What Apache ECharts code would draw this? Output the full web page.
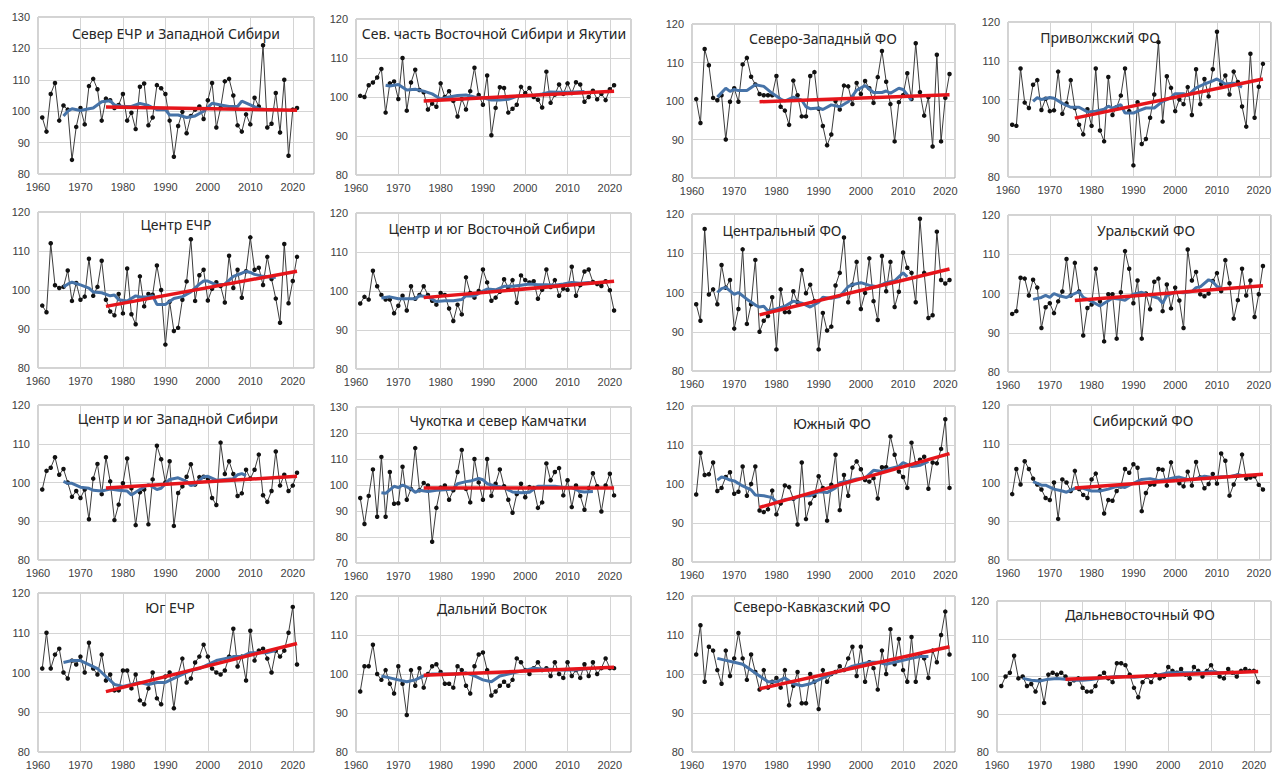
<!DOCTYPE html>
<html><head><meta charset="utf-8">
<script src="https://cdn.jsdelivr.net/npm/echarts@6/dist/echarts.min.js"></script>
<style>html,body{margin:0;padding:0;background:#fff}#c{width:1274px;height:776px}</style>
</head><body><div id="c"></div>
<script>
const YEARS = [1961,1962,1963,1964,1965,1966,1967,1968,1969,1970,
1971,1972,1973,1974,1975,1976,1977,1978,1979,1980,
1981,1982,1983,1984,1985,1986,1987,1988,1989,1990,
1991,1992,1993,1994,1995,1996,1997,1998,1999,2000,
2001,2002,2003,2004,2005,2006,2007,2008,2009,2010,
2011,2012,2013,2014,2015,2016,2017,2018,2019,2020,2021];
const X_TICKS = [1960,1970,1980,1990,2000,2010,2020];

const TITLES = ['Север ЕЧР и Западной Сибири','Сев. часть Восточной Сибири и Якутии','Северо-Западный ФО','Приволжский ФО',
'Центр ЕЧР','Центр и юг Восточной Сибири','Центральный ФО','Уральский ФО',
'Центр и юг Западной Сибири','Чукотка и север Камчатки','Южный ФО','Сибирский ФО',
'Юг ЕЧР','Дальний Восток','Северо-Кавказский ФО','Дальневосточный ФО'];

const Y_RANGES = [[80,130],[80,120],[80,120],[80,120],[80,120],[80,120],[80,120],[80,120],
[80,120],[70,130],[80,120],[80,120],[80,120],[80,120],[80,120],[80,120]];

const P1_VALUES = [98,93.5,105.5,109,97,101.8,100.5,84.5,95,101,
95.8,108,110.3,107,97,104,103.5,101,102,105.5,
97,99.5,94.3,107.8,108.8,95.5,98,108.3,107.3,105.5,
97,85.5,95.3,99.8,93,98.5,100.5,101.5,97.5,103.5,
109,94.8,101,109.5,110.3,105,95.5,93.5,99,95.8,
104.3,101.5,121,94.8,96,105.8,93.2,110,85.8,100.5,101];
const P1_SMOOTH = [[1966,98.5],[1967,100],[1968,100.8],[1970,100.2],[1972,100.8],[1973,101],[1975,103],[1977,103.3],[1978,102],[1980,101.5],[1982,101.5],[1984,102.5],[1986,101.8],[1988,100.5],[1990,100.5],[1991,98.8],[1993,98.8],[1995,98],[1997,98.5],[1999,100],[2001,102.5],[2003,102],[2005,101.5],[2007,101.5],[2008,103.2],[2010,102],[2012,100.8],[2014,100.5],[2016,100.6]];
const P1_TREND = [[1976,101.3],[2021,100.3]];

const P2_VALUES = [100.3,100,103,103.7,105,107.2,96,103.5,104,99.5,
110,96.5,103.7,107,101.8,101.2,96.8,98.3,97.5,103.5,
100,101.5,99,95,99.5,96.8,101.5,107.5,100.5,98,
105.5,90.2,97.2,102.5,102.3,96,97,98,102.6,101,
102.3,100,99.3,97.3,106.5,98.5,100.6,103.2,100.8,103.5,
101,103.8,103.2,98.8,100,101.6,99.4,100.8,99.2,102,103];
const P2_SMOOTH = [[1967,103],[1968,102.8],[1970,103.2],[1972,101.8],[1974,102],[1976,101.5],[1978,100.8],[1980,99.5],[1982,100],[1984,100.4],[1986,100.5],[1988,100],[1990,99.8],[1992,99.2],[1994,99.2],[1996,99.4],[1998,100.2],[2000,100.3],[2002,100.4],[2004,100.8],[2006,101.3],[2008,101.2],[2010,101.2],[2012,101.3],[2014,101.4]];
const P2_TREND = [[1976,99],[2021,101.5]];

const P3_VALUES = [100.5,94.3,113.5,109.3,100.8,100.2,101.5,90,99.8,103.3,
99.8,109.5,111.2,106.3,104.3,101.8,101.5,101.5,101.5,106.5,
98.5,97.5,93.8,105.3,101.5,96,96,106.5,107.5,98,
93.5,88.5,91.3,100,97.8,104,103.8,99.2,104.7,101.8,
105.2,103.3,99.5,106.2,113,105,99.2,89.5,99.7,101.5,
107.2,100.5,115,102.3,96.2,101,88.2,112,89.5,100.8,107];
const P3_SMOOTH = [[1966,101],[1968,103.3],[1969,102.5],[1970,103],[1971,102.7],[1973,102.7],[1975,104.2],[1977,103.8],[1979,102],[1981,100.5],[1982,100],[1984,101],[1986,100.2],[1987,98.5],[1988,98],[1990,98.2],[1991,97.8],[1993,99],[1995,98.5],[1997,99.8],[1999,102.8],[2001,104],[2003,102.2],[2005,102.2],[2006,102.6],[2007,102],[2009,103.3],[2010,103],[2012,100.2]];
const P3_TREND = [[1976,99.8],[2021,101.6]];

const P4_VALUES = [93.5,93.2,108,99.2,97.8,103.8,105,97.3,100.2,97,
97.2,107.2,96.3,99,105,97.8,93.5,91,97.5,93.2,
108,92,89.2,105.8,96,98,101,108,97,83,
99.3,88.5,89.8,95.3,101.3,114.8,94.3,106,103,97,
100,98.8,103.2,96,107.8,98.8,105.3,100.8,107.8,117.5,
104,106.2,101.3,107.2,104.5,98.2,93,111.8,95.3,103.3,109.2];
const P4_SMOOTH = [[1966,99.5],[1967,100.5],[1968,100],[1970,100.5],[1971,100.3],[1973,99],[1975,98],[1977,98],[1979,96.8],[1981,97],[1983,97.5],[1984,98.3],[1985,97.8],[1987,98.7],[1988,96.5],[1990,96.5],[1991,97],[1993,97.8],[1995,97.8],[1997,99.5],[1999,100.5],[2000,101.5],[2002,101.5],[2003,101],[2005,103],[2007,104],[2009,104.8],[2010,105.3],[2012,104],[2014,104.2],[2016,103.2]];
const P4_TREND = [[1976,95.2],[2021,105.3]];

const P5_VALUES = [96,94.3,112,101.2,100.5,100.8,105,97.2,101.8,97.5,
98.3,108,98.5,100.8,107.5,97.5,94.5,93.5,99,94,
105.5,93.8,91.2,103.5,95.8,99,98.8,106.3,100,86,
97,89.5,90.3,97.5,102.2,113,97.2,103.8,105.2,97.3,
100.3,102,101,96.8,108.8,100.5,105.2,98,104.8,113.5,
105.2,105.7,101.3,108.5,102.8,97.8,91.6,111.8,96.6,102.3,108.5];
const P5_SMOOTH = [[1966,100.8],[1967,101.5],[1968,102],[1970,101.3],[1972,100.5],[1973,99.5],[1975,99.3],[1977,98.5],[1978,98.7],[1979,97.5],[1981,97.2],[1983,98.5],[1984,98.2],[1986,98.3],[1987,98.5],[1988,96.3],[1990,96.3],[1992,97.8],[1994,98.3],[1996,99.5],[1998,101.5],[1999,102.3],[2000,102.3],[2002,101.3],[2004,101.5],[2006,103.5],[2008,104.3],[2009,104.8],[2010,104.5],[2011,104],[2013,103.5],[2016,103.2]];
const P5_TREND = [[1976,95.8],[2021,104.8]];

const P6_VALUES = [96.8,98.5,97.8,105.2,101.2,99,97.8,97.8,94.3,96.2,
98.8,95,101.2,98,99,101.2,99,97.5,96.5,99.5,
99,95.5,92.3,96.5,94,103.5,99.5,98.3,100,105.5,
102.2,97.5,98.3,99.8,103,100.8,102.8,97,104,102.8,
102.2,102.5,98,100.3,105.5,101,102.8,98.8,100.6,100.3,
106.2,98.8,101.5,105,105.5,102.3,101.8,101.3,102.5,100.2,95];
const P6_SMOOTH = [[1966,98.2],[1968,98.5],[1970,98],[1972,98],[1974,98],[1975,98.8],[1977,98.5],[1979,97.3],[1981,97.5],[1983,97.5],[1985,97.8],[1986,98.8],[1988,98.7],[1990,100],[1991,100.5],[1993,100.3],[1995,101.2],[1997,101.2],[1999,101.5],[2001,101.8],[2003,101.6],[2005,101.6],[2007,101.5],[2009,101.8],[2011,102.2],[2013,102],[2015,102.2],[2016,102]];
const P6_TREND = [[1976,98.3],[2021,102.5]];

const P7_VALUES = [97,92.8,116.2,99.5,100.8,97,107,101.2,103.2,90.8,
95.8,111,92,97,108.3,90,92.8,94,98.8,85.5,
100.8,95,95,100.3,97.5,105.7,99.8,102,97.8,85.5,
94.8,90.3,91.3,101.8,105,114,97.5,102,107.8,95.8,
99.9,108.7,97.8,93,109.3,100.3,107.8,96.3,100.2,110.2,
106.3,105,97.5,118.8,105,93.5,94.2,115.5,103.2,102.3,103.2];
const P7_SMOOTH = [[1966,100],[1967,101],[1968,101.3],[1970,99.5],[1971,100],[1973,98.3],[1975,96.8],[1976,96.3],[1977,96.5],[1978,95.3],[1980,95.8],[1982,96.5],[1984,97.8],[1986,97.3],[1988,96.3],[1990,97.5],[1991,98.8],[1993,98.5],[1995,99],[1997,101.5],[1998,102],[2000,102.5],[2002,101.8],[2004,101.5],[2006,102.5],[2008,103],[2010,105],[2011,104]];
const P7_TREND = [[1976,94.3],[2021,106]];

const P8_VALUES = [94.8,95.5,104,103.8,99.5,103.5,101.5,91.2,96.5,97.5,
95,98,100.5,108.8,99.5,107.8,100.5,89.3,96.3,97.2,
106.3,98,87.8,99.8,99.8,88.5,100.3,110.8,106.3,97.5,
103.3,88.5,100,96,103,103.8,95.5,102.3,96.2,101.5,
98.2,91.2,111.2,103.3,105.5,99.8,99.3,100,103.2,105.2,
100.6,108.5,102.6,93.6,98.3,106.3,99.5,103.3,94,99.8,107];
const P8_SMOOTH = [[1966,98.5],[1968,99],[1969,99.5],[1970,99],[1971,100],[1972,99.5],[1974,99],[1976,100],[1977,100.5],[1978,99],[1980,98],[1982,96.8],[1983,97.5],[1985,98.8],[1987,98.5],[1988,98.3],[1990,99.8],[1992,100.3],[1994,99.5],[1996,98.8],[1997,97.5],[1998,99.5],[2000,100.3],[2002,100.2],[2004,100.5],[2005,101.5],[2006,101.7],[2008,103.5],[2009,103],[2010,101.8],[2011,101.3]];
const P8_TREND = [[1976,98.2],[2021,102]];

const P9_VALUES = [98.2,103,103.8,106.5,102,103.5,100,96.3,97.8,96,
98.2,90.5,101,104.8,97,106.5,100.3,90.3,94.3,99.8,
106.2,98.5,89,97.5,98.2,89.2,100.8,109.5,106,100,
105.5,88.8,97.3,99,101.5,104.7,99.5,101.4,101.5,101,
96,94.2,110.3,102.2,105.5,102.2,96.5,97.2,103.3,101,
103.3,107.2,96.7,95,97.8,108,99.2,102,97.8,99.2,102.5];
const P9_SMOOTH = [[1966,100.3],[1967,99.8],[1968,99.8],[1970,98.8],[1972,98.5],[1973,98],[1975,97.8],[1977,98.3],[1979,98],[1981,97.8],[1982,96.8],[1984,98.2],[1986,99.5],[1988,98.2],[1989,98.5],[1991,100.8],[1993,101.2],[1995,100.3],[1996,99.2],[1997,99.5],[1999,101.5],[2000,101.6],[2002,100.6],[2004,100.8],[2006,101],[2007,102],[2008,102.3],[2009,101.8]];
const P9_TREND = [[1976,98.6],[2021,101.6]];

const P10_VALUES = [95,85,95.8,106,87.8,110.8,87.8,105,92.8,93,
107,94.3,98.5,114.2,98,100.8,99.8,78.2,91.2,99,
99.8,94.3,98,105,113.5,98.5,93.3,110,101,94.3,
110,95.8,100.5,106,99.5,94.3,89.3,96.5,100.5,95.3,
99.2,98.8,91.2,93.3,108.3,101.8,105,106.5,96,101.8,
91.5,99.8,95.8,90.5,98.8,104.5,99.5,89.8,99.8,104.3,96];
const P10_SMOOTH = [[1966,97],[1967,96.8],[1969,99.5],[1970,99],[1971,100],[1973,98.5],[1974,97.2],[1975,98],[1977,97.5],[1979,98],[1981,98.2],[1983,98.5],[1984,100.5],[1986,101.3],[1987,101.5],[1989,102.5],[1990,102],[1991,100.5],[1993,99.5],[1995,99],[1997,97.3],[1999,97],[2001,97.2],[2003,99.5],[2005,99.5],[2007,99.5],[2009,99],[2011,99],[2013,97.5],[2014,97.3],[2016,97.5]];
const P10_TREND = [[1976,98.8],[2021,98.8]];

const P11_VALUES = [97.3,108,102.3,102.5,105.5,98.2,99,101.8,103,97.5,
98,104.5,97,100,104.5,93.2,92.8,93.5,98.3,92.2,
95,99.6,99.2,96.2,89.6,105.5,91,95,97,102,
99,90.6,99.8,107.5,93.3,102.3,97,104.2,105.8,103.8,
101,100.6,101.5,96.3,104.3,104.3,112.2,107.5,103.2,101.8,
99,110.6,105.3,106.2,107,98.8,105.5,105.3,109,116.6,99];
const P11_SMOOTH = [[1966,101],[1967,101.8],[1968,101.5],[1969,101],[1970,100.8],[1972,99.5],[1974,98.5],[1975,97.2],[1977,97],[1979,96.5],[1980,95.3],[1982,96],[1984,96.2],[1986,97],[1988,97],[1990,98],[1992,97.8],[1994,99],[1995,100.3],[1997,100.7],[1999,101.3],[2001,101.5],[2003,103.5],[2005,103.2],[2007,104],[2009,104.5],[2010,105.5],[2012,104.5],[2013,104.6],[2014,104.8],[2016,105.8]];
const P11_TREND = [[1976,94],[2021,107.8]];

const P12_VALUES = [97,103.5,99.5,105.5,103.5,101,99.5,98.2,96,95.5,
100,90.6,100.8,100,97.8,103,98.3,96.8,96,100.8,
102.3,98,92,95.5,95.3,97.8,99,103.5,102.5,104.7,
103.8,92.6,97.3,99.5,99.5,103.5,103.3,99.2,105.2,101,
99.8,99,102.8,99.2,105.3,101.3,98.5,99.6,102.2,99.7,
107.5,105.6,96.6,99.5,101.8,107.2,101,101.3,101.6,99.4,98.2];
const P12_SMOOTH = [[1966,100.2],[1968,99.3],[1969,99.3],[1971,98.3],[1973,97.8],[1974,97.5],[1976,98.5],[1978,98.5],[1980,97.8],[1982,97.8],[1984,98.3],[1986,99],[1988,98.7],[1990,99.8],[1992,100.8],[1994,101],[1996,100.5],[1998,100.8],[2000,101.3],[2001,101.4],[2003,100.8],[2005,101],[2007,101.6],[2009,101.3],[2011,101.5],[2013,101.5],[2015,102],[2016,101.8]];
const P12_TREND = [[1976,98.6],[2021,102.1]];

const P13_VALUES = [101,110,101,104.5,106,100,98.5,103,102,104,
100,107.5,101,99.5,104.5,98,99.5,95.5,95.5,100.5,
100.5,96,99.5,93,92,96,100,93.5,92,99,
100,91,99.5,103.5,97.5,98.5,102.5,104,107,104,
101,100,99.5,100.5,104,111,101.5,104,98,110.5,
103,105.5,106,103.5,100,105.5,104,105.5,110,116.5,102];
const P13_SMOOTH = [[1966,102.5],[1968,103],[1970,103],[1972,102],[1974,101],[1976,99],[1978,97],[1980,96.5],[1982,97],[1984,97.5],[1986,97],[1988,97.5],[1990,97.5],[1992,98.5],[1994,99.5],[1996,100.5],[1998,101],[2000,102],[2002,103],[2004,103.5],[2006,104],[2008,104],[2010,105],[2012,105],[2014,105],[2016,105.5]];
const P13_TREND = [[1976,95.2],[2021,107.3]];

const P14_VALUES = [95.5,102,102,107.5,100,98.5,101,97.5,95,102,
97.5,89.5,101,97,101.5,96.5,100,102,102.5,100.5,
97.5,97.5,96.5,102,101,97,95,102,105,105.5,
101,94.5,95.5,97,98,97,98.5,104,103,101,
100,101.5,103,101,101.5,99.5,103,100,99,103,
99.5,101,99,102.5,99.5,103,100,101.5,104,101.5,101.5];
const P14_SMOOTH = [[1966,99.5],[1968,99],[1970,98.5],[1972,98],[1974,98.5],[1976,99.5],[1978,100],[1980,100],[1982,100],[1984,100],[1986,100.3],[1988,99.5],[1990,98.5],[1992,98],[1994,99.5],[1996,100],[1998,100.5],[2000,101],[2002,101.5],[2004,101.3],[2006,101.2],[2008,101],[2010,101],[2012,101],[2014,101.3],[2016,101.5]];
const P14_TREND = [[1976,99.7],[2021,101.7]];

const P15_VALUES = [105,112.5,98,107,106,101,97.5,106,99.5,104,
110.5,104,98.5,105,100.5,96,101,96.5,98,99,
96.5,101,92,97,100.5,92.5,92.5,100,98,91,
101,98,100,100.5,102,101,104,107,99.5,107,
98,103,101.5,96,106,100,111.5,102.5,109,101,
98,109.5,98,105,104,99,106,103,110,116,105];
const P15_SMOOTH = [[1966,104],[1968,103.5],[1970,103],[1972,102.5],[1974,101],[1976,99.5],[1978,98],[1980,98],[1982,99],[1984,97.5],[1986,97],[1988,97.5],[1990,98.5],[1992,99.5],[1994,100.5],[1996,101],[1998,102],[2000,102.5],[2002,103],[2004,103],[2006,102.5],[2008,103],[2010,103.5],[2012,104],[2014,104.5],[2016,104.5]];
const P15_TREND = [[1976,96.2],[2021,107]];

const P16_VALUES = [97.5,100,101,105.5,99.5,100,97.5,98,96,99,
93,100.5,101,100.5,101,100,98,99,99.5,97,
96,96,97.5,100,101,99.5,98.5,103.5,103.5,103,
100.5,97,94.5,98.5,100,98.5,100.5,99.5,100,102.5,
101.5,101,102,100.5,99.5,102.5,101.5,100,101.5,103,
101,100,99.5,102,101,100,101.5,102,101.5,101.5,98.5];
const P16_SMOOTH = [[1966,99.5],[1968,99],[1970,98.8],[1972,99.3],[1974,99.5],[1976,99.3],[1978,99],[1980,99],[1982,99.2],[1984,99.5],[1986,99.8],[1988,100],[1990,100],[1992,99.8],[1994,100],[1996,100],[1998,100.5],[2000,101],[2002,101],[2004,101],[2006,101],[2008,101],[2010,101.3],[2012,101],[2014,101],[2016,101]];
const P16_TREND = [[1976,99.3],[2021,101.3]];

const VALUES = [P1_VALUES,P2_VALUES,P3_VALUES,P4_VALUES,P5_VALUES,P6_VALUES,P7_VALUES,P8_VALUES,
P9_VALUES,P10_VALUES,P11_VALUES,P12_VALUES,P13_VALUES,P14_VALUES,P15_VALUES,P16_VALUES];
const SMOOTH = [P1_SMOOTH,P2_SMOOTH,P3_SMOOTH,P4_SMOOTH,P5_SMOOTH,P6_SMOOTH,P7_SMOOTH,P8_SMOOTH,
P9_SMOOTH,P10_SMOOTH,P11_SMOOTH,P12_SMOOTH,P13_SMOOTH,P14_SMOOTH,P15_SMOOTH,P16_SMOOTH];
const TREND = [P1_TREND,P2_TREND,P3_TREND,P4_TREND,P5_TREND,P6_TREND,P7_TREND,P8_TREND,
P9_TREND,P10_TREND,P11_TREND,P12_TREND,P13_TREND,P14_TREND,P15_TREND,P16_TREND];

// layout (pixels): [left, top, width, height, xMax, titleX, titleY]
const LAYOUT = [
 [38,17,276,157,2025,176,33],[356,19,275,156,2025,494,33],[692,24,263,154,2022.3,823,38],[1008,22,265.5,155,2022.9,1100,37],
 [38,212,276,156,2025,176,224],[356,213,275,156,2025,492,228],[692,214,263,157,2022.3,782,230],[1008,215,265.5,157,2022.9,1146,230],
 [38,405,276,155,2025,178,418],[356,407,275,156,2025,498,420],[692,406,263,156,2022.3,832,423],[1008,405,265.5,155,2022.9,1143,420],
 [38,593,276,159,2025,170,607],[356,596,275,156,2025,492,608],[692,596,263,156,2022.3,812,606],[997,601,276,151,2024,1140,614]
];

const FONT = 'Noto Sans';
const grid=[], xAxis=[], yAxis=[], series=[], graphic=[];
LAYOUT.forEach((L,i)=>{
  grid.push({left:L[0],top:L[1],width:L[2],height:L[3],show:true,borderColor:'#a6a6a6',borderWidth:1,backgroundColor:'#fff'});
  xAxis.push({type:'value',gridIndex:i,min:1960,max:L[4],interval:10,
    axisLine:{show:false},axisTick:{show:false},
    axisLabel:{color:'#404040',fontSize:11,fontFamily:'Liberation Sans',margin:7,
      formatter:v=>X_TICKS.includes(v)?String(v):''},
    splitLine:{lineStyle:{color:'#d4d4d4',width:1}}});
  yAxis.push({type:'value',gridIndex:i,min:Y_RANGES[i][0],max:Y_RANGES[i][1],interval:10,
    axisLine:{show:false},axisTick:{show:false},
    axisLabel:{color:'#404040',fontSize:11,fontFamily:'Liberation Sans',margin:8},
    splitLine:{lineStyle:{color:'#d4d4d4',width:1}}});
  series.push({type:'line',xAxisIndex:i,yAxisIndex:i,data:YEARS.map((y,k)=>[y,VALUES[i][k]]),
    symbol:'circle',symbolSize:4.5,itemStyle:{color:'#111'},lineStyle:{color:'#3c3c3c',width:1},z:2,silent:true});
  series.push({type:'line',xAxisIndex:i,yAxisIndex:i,data:SMOOTH[i],symbol:'none',
    lineStyle:{color:'#4673a8',width:3},z:3,silent:true});
  series.push({type:'line',xAxisIndex:i,yAxisIndex:i,data:TREND[i],symbol:'none',
    lineStyle:{color:'#e6151b',width:3.5},z:4,silent:true});
  graphic.push({type:'text',x:L[5],y:L[6],z:10,
    style:{text:TITLES[i],fill:'#262626',font:'14px "'+FONT+'"',align:'center',verticalAlign:'middle',
      textAlign:'center',textVerticalAlign:'middle'}});
});

const chart = echarts.init(document.getElementById('c'), null, {renderer:'svg'});
chart.setOption({animation:false,grid,xAxis,yAxis,series,graphic});
</script></body></html>
